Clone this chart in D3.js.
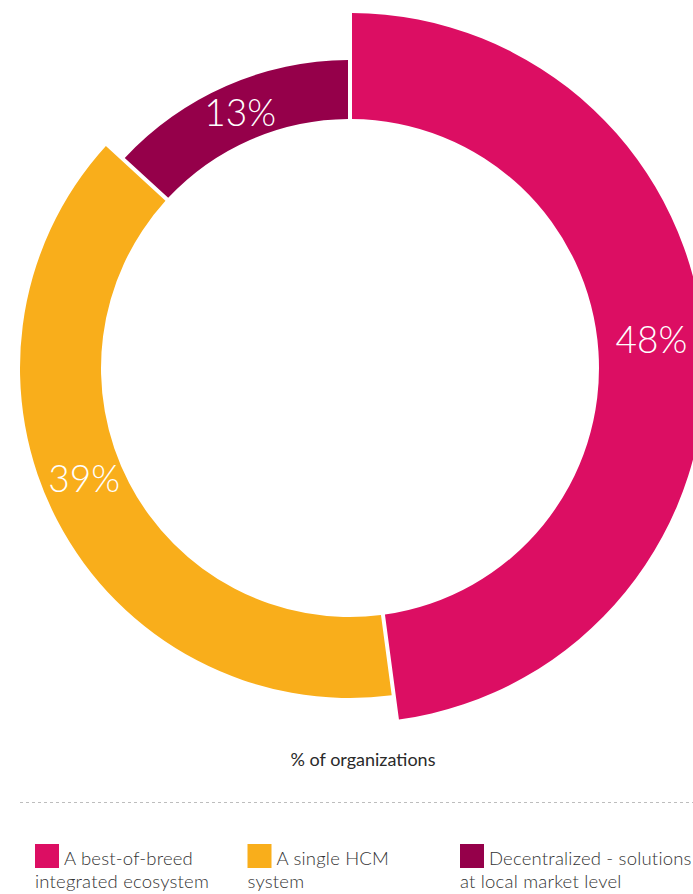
<!DOCTYPE html>
<html>
<head>
<meta charset="utf-8">
<script src="https://cdn.jsdelivr.net/npm/d3@7"></script>
<style>
  html, body { margin: 0; padding: 0; background: #fff; }
  svg { display: block; }
</style>
</head>
<body>
<div id="chart"></div>
<script>
// data
var categories = ["A best-of-breed integrated ecosystem", "A single HCM system", "Decentralized - solutions at local market level"];
var values = [48, 39, 13];
var legendLines = [
  ["A best-of-breed", "integrated ecosystem"],
  ["A single HCM", "system"],
  ["Decentralized - solutions", "at local market level"]
];
var caption = "% of organizations";

// styles
var colors = ["#dc0e63", "#f9ae1b", "#95004a"];
var outerR = [355, 330, 308];
var innerR = 249;
// small nudges of the value labels away from the centroid
var labelNudge = [[0, -8], [-9, -23], [2, 0]];

var width = 693, height = 894;
var cx = 350, cy = 368;

var svg = d3.select("#chart").append("svg")
    .attr("width", width)
    .attr("height", height);

var pie = d3.pie()
    .sort(null)
    .value(function(d) { return d; })
    .padAngle(4 / innerR);

var arcs = pie(values);

var g = svg.append("g")
    .attr("transform", "translate(" + cx + "," + cy + ")");

function arcFor(i) {
  return d3.arc().innerRadius(innerR).outerRadius(outerR[i]).padRadius(innerR);
}

g.selectAll("path.slice")
    .data(arcs)
    .enter().append("path")
      .attr("class", "slice")
      .attr("d", function(d, i) { return arcFor(i)(d); })
      .attr("fill", function(d, i) { return colors[i]; });

g.selectAll("text.pct")
    .data(arcs)
    .enter().append("text")
      .attr("class", "pct")
      .attr("transform", function(d, i) {
        var c = arcFor(i).centroid(d);
        return "translate(" + (c[0] + labelNudge[i][0]) + "," + (c[1] + labelNudge[i][1]) + ")";
      })
      .attr("text-anchor", "middle")
      .attr("dy", "0.36em")
      .attr("font-family", "Lato, sans-serif")
      .attr("font-weight", 300)
      .attr("font-size", 37)
      .attr("fill", "#fff")
      .text(function(d) { return d.data + "%"; });

// caption
svg.append("text")
    .attr("x", 363)
    .attr("y", 766)
    .attr("text-anchor", "middle")
    .attr("font-family", "Lato, sans-serif")
    .attr("font-size", 18)
    .attr("fill", "#2a2a2a")
    .text(caption);

// dotted separator
svg.append("line")
    .attr("x1", 20).attr("x2", 693)
    .attr("y1", 802.5).attr("y2", 802.5)
    .attr("stroke", "#bdbdbd")
    .attr("stroke-width", 1)
    .attr("stroke-dasharray", "3,3");

// legend
var legendX = d3.scalePoint().domain(d3.range(categories.length)).range([35, 460]);

var item = svg.selectAll("g.legend")
    .data(categories)
    .enter().append("g")
      .attr("class", "legend")
      .attr("transform", function(d, i) { return "translate(" + legendX(i) + ",844)"; });

item.append("rect")
    .attr("width", 24)
    .attr("height", 24)
    .attr("fill", function(d, i) { return colors[i]; });

item.append("text")
    .attr("x", 29)
    .attr("y", 21)
    .attr("font-family", "Lato, sans-serif")
    .attr("font-weight", 300)
    .attr("font-size", 18.5)
    .attr("letter-spacing", 0.2)
    .attr("fill", "#333")
    .text(function(d, i) { return legendLines[i][0]; });

item.append("text")
    .attr("x", 0)
    .attr("y", 44)
    .attr("font-family", "Lato, sans-serif")
    .attr("font-weight", 300)
    .attr("font-size", 18.5)
    .attr("letter-spacing", 0.2)
    .attr("fill", "#333")
    .text(function(d, i) { return legendLines[i][1]; });
</script>
</body>
</html>
